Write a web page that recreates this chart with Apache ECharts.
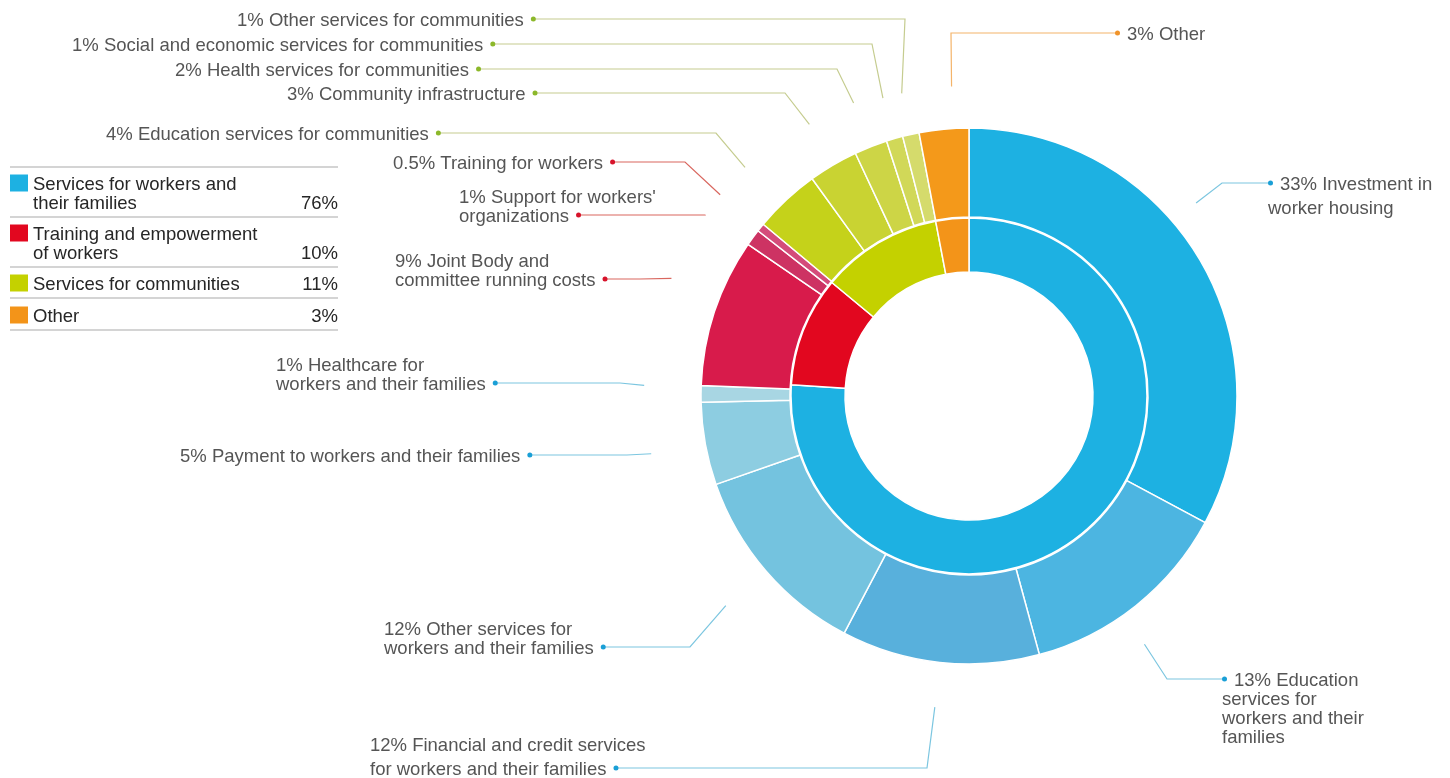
<!DOCTYPE html>
<html>
<head>
<meta charset="utf-8">
<script src="https://cdn.jsdelivr.net/npm/echarts@6/dist/echarts.min.js"></script>
<style>
  html, body { margin: 0; padding: 0; background: #fff; }
  #chart { width: 1450px; height: 778px; }
</style>
</head>
<body>
<div id="chart"></div>
<script>
// Inner ring: the four spending groups
const groupNames = ['Services for workers and\ntheir families', 'Training and empowerment\nof workers', 'Services for communities', 'Other'];
const groupValues = [76, 10, 11, 3];
const groupColors = ['#1db1e2', '#e2071f', '#c4d100', '#f39419'];
const groupDotColors = ['#1a9fd6', '#d7132b', '#8cb82a', '#f0932a'];
const groupLineColors = ['#7cc6e0', '#d9675f', '#c5cc8f', '#f4b46a'];

// Outer ring: spending items, clockwise from 12 o'clock
const itemNames = [
  'Investment in\nworker housing',
  'Education\nservices for\nworkers and their\nfamilies',
  'Financial and credit services\nfor workers and their families',
  'Other services for\nworkers and their families',
  'Payment to workers and their families',
  'Healthcare for\nworkers and their families',
  'Joint Body and\ncommittee running costs',
  "Support for workers'\norganizations",
  'Training for workers',
  'Education services for communities',
  'Community infrastructure',
  'Health services for communities',
  'Social and economic services for communities',
  'Other services for communities',
  'Other'
];
const itemValues = [33, 13, 12, 12, 5, 1, 9, 1, 0.5, 4, 3, 2, 1, 1, 3];
const itemGroup = [0, 0, 0, 0, 0, 0, 1, 1, 1, 2, 2, 2, 2, 2, 3];
const itemColors = [
  '#1db1e2', '#4cb5e1', '#58b0dc', '#74c3df', '#8dcde1', '#a8d6e3',
  '#d81b4b', '#cd3363', '#d44c7a',
  '#c5d21a', '#c9d332', '#cdd546', '#d1d858', '#d5db6c',
  '#f4991a'
];

// Callout placement: text left edge (x), centre line of the dot (y),
// elbow x of the leader, start radius and position within the slice (t)
const callouts = [
  { side: 'right', x: 1268, y: 183, ex: 1222, r: 298, t: 0.42, lh: 24 },
  { side: 'right', x: 1222, y: 679, ex: 1167, r: 304, t: 0.57 },
  { side: 'left', x: 370, y: 768, ex: 927, r: 313, t: 0.5, lh: 24 },
  { side: 'left', x: 384, y: 647, ex: 690, r: 321, t: 0.5 },
  { side: 'left', x: 180, y: 455, ex: 627, r: 323, t: 0.5 },
  { side: 'left', x: 276, y: 383, ex: 620, r: 325, t: 0.9 },
  { side: 'left', x: 395, y: 279, ex: 640, r: 320, t: 0.6 },
  { side: 'left', x: 459, y: 215, ex: null, r: 320, t: 0 },
  { side: 'left', x: 393, y: 162, ex: 685, r: 320, t: 0.5 },
  { side: 'left', x: 106, y: 133, ex: 716, r: 320, t: 0.4 },
  { side: 'left', x: 287, y: 93, ex: 785, r: 315, t: 0.5 },
  { side: 'left', x: 175, y: 69, ex: 837, r: 315, t: 0.5 },
  { side: 'left', x: 72, y: 44, ex: 872, r: 310, t: 0.5 },
  { side: 'left', x: 237, y: 19, ex: 905, r: 310, t: 0.5 },
  { side: 'right', x: 1115, y: 33, ex: 951, r: 310, t: 0.7 }
];

const CX = 969, CY = 396;
const FONT_SIZE = 18.5;
const FONT_FAMILY = 'Liberation Sans';
const LINE_H = 19;
const GAP_LEFT = 7, GAP_RIGHT = 7, DOT = 5;
const TEXT_NUDGE = 3; // top padding that lowers the glyphs a touch against the dots
const dotKeys = ['dotB', 'dotR', 'dotG', 'dotO'];

const measureCtx = document.createElement('canvas').getContext('2d');
function textWidth(s) {
  measureCtx.font = FONT_SIZE + 'px ' + FONT_FAMILY;
  return measureCtx.measureText(s).width;
}
function labelText(i) {
  return itemValues[i] + '% ' + itemNames[i];
}

const itemTotal = itemValues.reduce((a, b) => a + b, 0);
const itemSpans = [];
(function () {
  let acc = 0;
  itemValues.forEach(v => { itemSpans.push([acc, acc + v]); acc += v; });
})();

const richStyles = {
  t: { fontSize: FONT_SIZE, fontFamily: FONT_FAMILY, color: '#555', lineHeight: LINE_H, padding: [TEXT_NUDGE, 0, 0, 0], align: 'left', verticalAlign: 'middle' },
  t24: { fontSize: FONT_SIZE, fontFamily: FONT_FAMILY, color: '#555', lineHeight: 24, padding: [TEXT_NUDGE, 0, 0, 0], align: 'left', verticalAlign: 'middle' },
  gl: { width: GAP_LEFT, height: DOT, align: 'left', verticalAlign: 'middle' },
  gr: { width: GAP_RIGHT, height: DOT, align: 'left', verticalAlign: 'middle' }
};
dotKeys.forEach((k, g) => {
  richStyles[k] = { width: DOT, height: DOT, borderRadius: DOT / 2, backgroundColor: groupDotColors[g], align: 'left', verticalAlign: 'middle' };
});

const innerData = groupValues.map((v, i) => ({
  value: v, name: groupNames[i], itemStyle: { color: groupColors[i] }
}));

const outerData = itemValues.map((v, i) => ({
  value: v,
  name: itemNames[i],
  itemStyle: { color: itemColors[i] },
  labelLine: { show: true, smooth: false, lineStyle: { color: groupLineColors[itemGroup[i]], width: 1.2 } }
}));

// Legend table built from the group arrays
const rowTops = [167, 217, 267, 298];
const tableBottom = 330;
const legendGraphics = [];
const ruleYs = rowTops.concat([tableBottom]);
ruleYs.forEach(y => {
  legendGraphics.push({
    type: 'line', shape: { x1: 10, y1: y, x2: 338, y2: y },
    style: { stroke: '#c6c6c6', lineWidth: 1.6 }, silent: true
  });
});
groupNames.forEach((name, i) => {
  const top = rowTops[i];
  const firstMid = top + 16 + (i === 3 ? 1 : 0);
  const nLines = name.split('\n').length;
  legendGraphics.push({
    type: 'rect', shape: { x: 10, y: firstMid - 8.5, width: 18, height: 17 },
    style: { fill: groupColors[i] }, silent: true
  });
  legendGraphics.push({
    type: 'text', x: 33, y: firstMid - LINE_H / 2 + 1.5,
    style: { text: name, fill: '#262626', fontSize: FONT_SIZE, fontFamily: FONT_FAMILY, lineHeight: LINE_H, align: 'left', verticalAlign: 'top' },
    silent: true
  });
  legendGraphics.push({
    type: 'text', x: 338, y: firstMid + (nLines - 1) * LINE_H - LINE_H / 2 + 1.5,
    style: { text: groupValues[i] + '%', fill: '#262626', fontSize: FONT_SIZE, fontFamily: FONT_FAMILY, lineHeight: LINE_H, align: 'right', verticalAlign: 'top' },
    silent: true
  });
});

const chart = echarts.init(document.getElementById('chart'), null, { renderer: 'canvas' });
chart.setOption({
  backgroundColor: '#ffffff',
  animation: false,
  graphic: legendGraphics,
  series: [
    {
      type: 'pie',
      name: 'groups',
      center: [CX, CY],
      radius: [124, 178],
      startAngle: 90,
      clockwise: true,
      silent: true,
      label: { show: false },
      labelLine: { show: false },
      itemStyle: { borderColor: '#ffffff', borderWidth: 1.5 },
      emphasis: { disabled: true },
      data: innerData
    },
    {
      type: 'pie',
      name: 'items',
      center: [CX, CY],
      radius: [179, 268],
      startAngle: 90,
      clockwise: true,
      silent: true,
      avoidLabelOverlap: false,
      itemStyle: { borderColor: '#ffffff', borderWidth: 1.5 },
      emphasis: { disabled: true },
      label: {
        show: true,
        position: 'outside',
        fontSize: FONT_SIZE,
        fontFamily: FONT_FAMILY,
        color: '#555',
        lineHeight: LINE_H,
        rich: richStyles,
        formatter: function (p) {
          const i = p.dataIndex;
          const c = callouts[i];
          const tk = c.lh ? 't24' : 't';
          const dk = dotKeys[itemGroup[i]];
          if (c.side === 'right') {
            return '{' + dk + '|}{gr|}{' + tk + '|' + labelText(i) + '}';
          }
          return '{' + tk + '|' + labelText(i) + '}{gl|}{' + dk + '|}';
        }
      },
      labelLine: { show: true, length: 10, length2: 10 },
      labelLayout: function (p) {
        const i = p.dataIndex;
        const c = callouts[i];
        const span = itemSpans[i];
        const frac = (span[0] + (span[1] - span[0]) * c.t) / itemTotal;
        const ang = frac * Math.PI * 2;
        const sx = CX + c.r * Math.sin(ang);
        const sy = CY - c.r * Math.cos(ang);
        const lines = labelText(i).split('\n');
        const lh = c.lh || LINE_H;
        let dotX, top;
        if (c.side === 'right') {
          dotX = c.x + DOT / 2;
          top = c.y - lh / 2;
        } else {
          dotX = c.x + textWidth(lines[lines.length - 1]) + GAP_LEFT + DOT / 2;
          top = c.y - lh / 2 - (lines.length - 1) * lh;
        }
        const ex = c.ex == null ? sx : c.ex;
        return {
          x: c.x,
          y: top,
          align: 'left',
          verticalAlign: 'top',
          labelLinePoints: [[sx, sy], [ex, c.y], [dotX, c.y]]
        };
      },
      data: outerData
    }
  ]
});
</script>
</body>
</html>
